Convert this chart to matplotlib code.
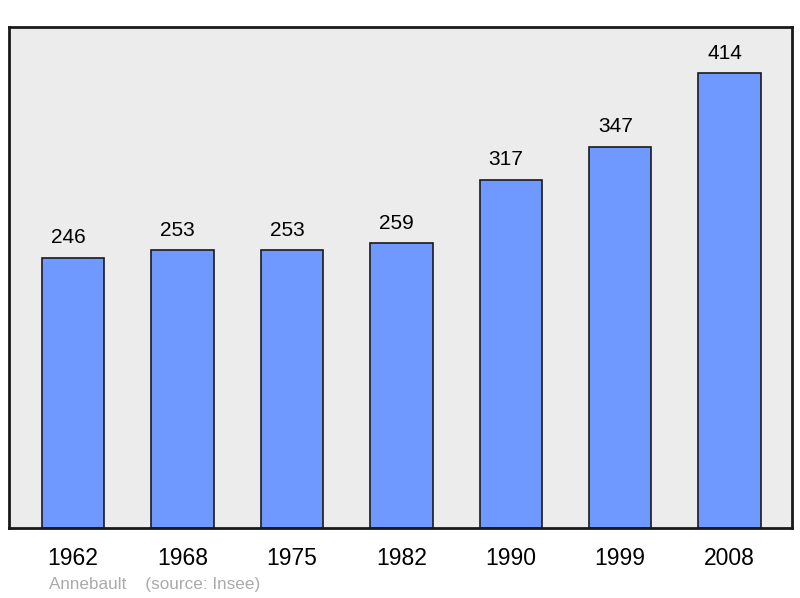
import matplotlib
matplotlib.use("Agg")
import matplotlib.pyplot as plt

years = ["1962", "1968", "1975", "1982", "1990", "1999", "2008"]
population = [246, 253, 253, 259, 317, 347, 414]

plt.rcParams['font.family'] = ['Liberation Sans', 'DejaVu Sans']

fig = plt.figure(figsize=(8, 5.98), dpi=100)
ax = fig.add_axes([9/800, 70/598, 783/800, 501/598])
ax.set_facecolor("#ececec")

x = list(range(len(years)))
ax.bar(x, population, width=0.57, color="#7099ff", edgecolor="#1a1a1a", linewidth=1.2, zorder=2)

# les étiquettes de valeur sont un peu décalées à gauche dans l'original
for xi, v in zip(x, population):
    ax.annotate(str(v), (xi, v), xytext=(-3.5, 7.5), textcoords="offset points",
                ha="center", va="bottom", fontsize=15)

ax.set_xlim(-0.585, 6.57)
ax.set_ylim(0, 456)
ax.set_yticks([])
ax.set_xticks(x)
ax.set_xticklabels(years, fontsize=16.5)
ax.tick_params(axis="x", length=0, pad=14)
for s in ax.spines.values():
    s.set_linewidth(2)
    s.set_color("#1a1a1a")

fig.text(49/800, 1 - 585/598, "Annebault    (source: Insee)", fontsize=12.3,
         color="#aaaaaa", va="center", ha="left")

fig.savefig("out.png", dpi=100)
